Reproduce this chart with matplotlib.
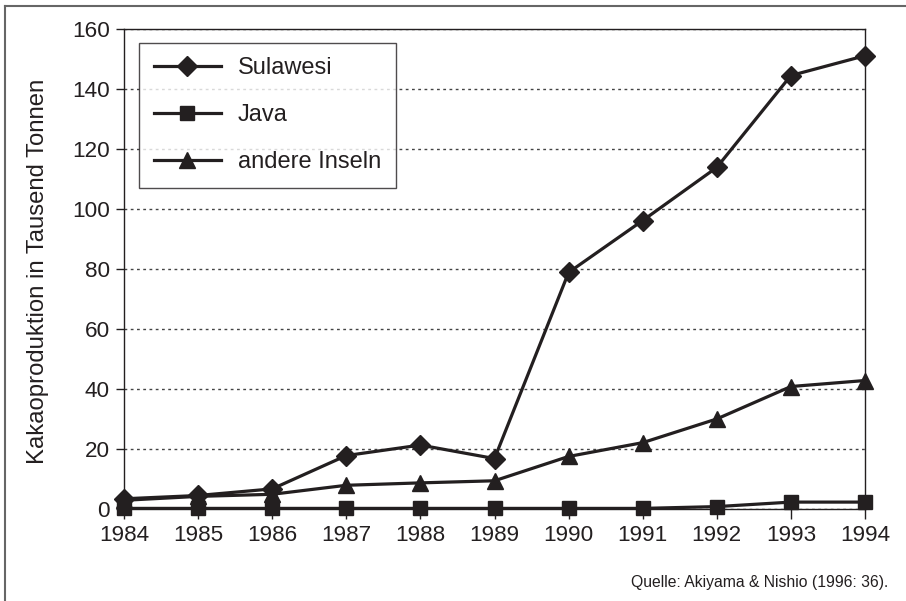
import matplotlib
matplotlib.use('agg')
import matplotlib.pyplot as plt
from matplotlib.lines import Line2D

years = [1984, 1985, 1986, 1987, 1988, 1989, 1990, 1991, 1992, 1993, 1994]
sulawesi = [3.5, 4.6, 6.8, 17.9, 21.4, 16.9, 78.9, 96.2, 113.9, 144.5, 151.1]
java = [0.3, 0.3, 0.3, 0.3, 0.3, 0.3, 0.3, 0.3, 0.9, 2.4, 2.4]
andere = [3.0, 4.3, 5.0, 8.0, 8.8, 9.5, 17.6, 22.2, 30.1, 40.9, 42.9]
yticks = [0, 20, 40, 60, 80, 100, 120, 140, 160]

ink = '#231f20'
plt.rcParams['font.family'] = ['Liberation Sans', 'DejaVu Sans']

fig = plt.figure(figsize=(9.06, 6.01), dpi=100)
ax = fig.add_axes([124 / 906, 1 - 509.3 / 601, 741 / 906, 480.3 / 601])

ax.plot(years, sulawesi, color=ink, lw=2.3, marker='D', ms=10, clip_on=False,
        zorder=5, label='Sulawesi')
ax.plot(years, java, color=ink, lw=2.3, marker='s', ms=10, clip_on=False,
        zorder=5, label='Java')
ax.plot(years, andere, color=ink, lw=2.3, marker='^', ms=11.5, clip_on=False,
        zorder=5, label='andere Inseln')

ax.set_xlim(1984, 1994)
ax.set_ylim(0, 160)
ax.set_xticks(years)
ax.set_yticks(yticks)
ax.tick_params(axis='both', labelsize=16.2, colors=ink, direction='out', width=1)
ax.tick_params(axis='y', length=6, pad=4)
ax.tick_params(axis='x', length=7, pad=4)
for s in ax.spines.values():
    s.set_color(ink)
    s.set_linewidth(1)
ax.yaxis.grid(True, linestyle=(0, (2, 2.5)), color='#444444', lw=1)
ax.set_axisbelow(True)

leg = ax.legend(loc='upper left', bbox_to_anchor=(0.0205, 0.9715), borderaxespad=0,
                fontsize=17, frameon=True, fancybox=False, handlelength=2.85,
                handletextpad=0.7, labelspacing=1.06, borderpad=0.62)
leg.get_frame().set_edgecolor(ink)
leg.get_frame().set_linewidth(1)
for t in leg.get_texts():
    t.set_color(ink)

fig.text(38 / 906, 1 - 271.5 / 601, 'Kakaoproduktion in Tausend Tonnen', rotation=90,
         ha='center', va='center', fontsize=17.2, color=ink)
fig.text(888 / 906, 1 - 582 / 601, 'Quelle: Akiyama & Nishio (1996: 36).',
         ha='right', va='center', fontsize=11.3, color=ink)

# outer frame (left and top only)
fig.add_artist(Line2D([5 / 906, 5 / 906], [0, 1 - 6 / 601], color='#666666', lw=1.5,
                      transform=fig.transFigure))
fig.add_artist(Line2D([5 / 906, 1], [1 - 6 / 601, 1 - 6 / 601], color='#666666', lw=1.5,
                      transform=fig.transFigure))

fig.savefig('out.png', dpi=100)
